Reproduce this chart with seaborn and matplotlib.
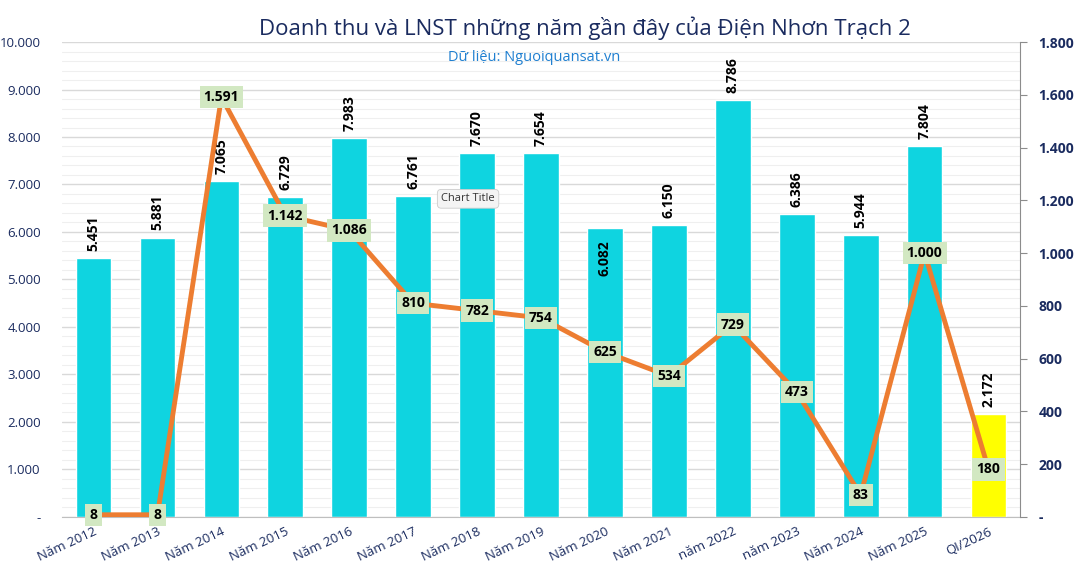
import matplotlib.pyplot as plt
import matplotlib.ticker as mticker
import numpy as np
import pandas as pd
import seaborn as sns

years = ["Năm 2012", "Năm 2013", "Năm 2014", "Năm 2015", "Năm 2016", "Năm 2017",
         "Năm 2018", "Năm 2019", "Năm 2020", "Năm 2021", "năm 2022", "năm 2023",
         "Năm 2024", "Năm 2025", "QI/2026"]
revenue = [5451, 5881, 7065, 6729, 7983, 6761, 7670, 7654, 6082, 6150, 8786, 6386,
           5944, 7804, 2172]
profit = [8, 8, 1591, 1142, 1086, 810, 782, 754, 625, 534, 729, 473, 83, 1000, 180]

navy = "#1a2b5f"
bar_col = "#0fd4e0"
fonts = ["Open Sans", "DejaVu Sans"]

sns.set_style("white")
plt.rcParams["font.family"] = fonts

df = pd.DataFrame({"year": years, "revenue": revenue, "profit": profit})
colors = [bar_col] * (len(years) - 1) + ["#ffff00"]

fig = plt.figure(figsize=(10.81, 5.68), dpi=100)
ax = fig.add_axes([0.057, 0.090, 0.887, 0.836])

sns.barplot(data=df, x="year", y="revenue", hue="year", palette=colors,
            saturation=1, legend=False, width=0.56, ax=ax, zorder=2)
ax.set_ylim(0, 10000)
ax.set_xlim(-0.5, len(years) - 0.5)
ax.yaxis.set_major_locator(mticker.MultipleLocator(1000))
ax.yaxis.set_minor_locator(mticker.MultipleLocator(200))
ax.grid(which="major", axis="y", color="#d9d9d9", lw=1, zorder=0)
ax.grid(which="minor", axis="y", color="#efefef", lw=0.8, zorder=0)
ax.set_axisbelow(True)
ax.yaxis.set_major_formatter(mticker.FuncFormatter(
    lambda v, p: "-" if v == 0 else f"{int(v):,}".replace(",", ".")))
ax.tick_params(axis="y", which="both", length=0, labelsize=9.5, labelcolor=navy, pad=15)
ax.set_xlabel("")
ax.set_ylabel("")
ax.set_xticks(range(len(years)))
ax.set_xticklabels(years, rotation=25, ha="right", rotation_mode="anchor",
                   color=navy, fontsize=9.5)
ax.tick_params(axis="x", which="major", length=0, pad=6)
ax.set_xticks(np.arange(-0.5, len(years)), minor=True)
ax.tick_params(axis="x", which="minor", length=5, color="#bfbfbf")
for s in ["left", "top", "right"]:
    ax.spines[s].set_visible(False)
ax.spines["bottom"].set_color("#bfbfbf")

for i, v in enumerate(revenue):
    lab = f"{v:,}".replace(",", ".")
    if i == 8:
        ax.text(i, v - 250, lab, rotation=90, ha="center", va="top",
                fontsize=10, fontweight="bold", color="black", zorder=5)
    else:
        ax.text(i, v + 150, lab, rotation=90, ha="center", va="bottom",
                fontsize=10, fontweight="bold", color="black", zorder=5)

ax2 = ax.twinx()
sns.lineplot(x=list(range(len(years))), y=profit, color="#ed7d31", lw=3.5,
             ax=ax2, zorder=3)
ax2.set_ylim(0, 1800)
ax2.yaxis.set_major_locator(mticker.MultipleLocator(200))
ax2.yaxis.set_major_formatter(mticker.FuncFormatter(
    lambda v, p: "-" if v == 0 else f"{int(v):,}".replace(",", ".")))
ax2.tick_params(axis="y", length=5, color="#8c8c8c", labelsize=10,
                labelcolor=navy, pad=8)
for t in ax2.get_yticklabels():
    t.set_fontweight("bold")
for s in ["left", "top", "bottom"]:
    ax2.spines[s].set_visible(False)
ax2.spines["right"].set_color("#8c8c8c")

for i, v in enumerate(profit):
    ax2.text(i, v, f"{v:,}".replace(",", "."), ha="center", va="center",
             fontsize=10, fontweight="bold", color="black", zorder=6,
             bbox=dict(boxstyle="square,pad=0.3", fc="#d2e8c2", ec="none"))

fig.text(0.541, 0.951, "Doanh thu và LNST những năm gần đây của Điện Nhơn Trạch 2",
         ha="center", va="center", fontsize=16, color=navy)
fig.text(0.494, 0.899, "Dữ liệu: Nguoiquansat.vn", ha="center", va="center",
         fontsize=10.5, color="#1f7fd0")
fig.text(0.433, 0.650, "Chart Title", ha="center", va="center", fontsize=8,
         color="#333333", bbox=dict(boxstyle="round,pad=0.35", fc="#f4f4f4",
                                    ec="#cccccc", lw=0.6), zorder=10)

fig.savefig("out.png", dpi=100)
